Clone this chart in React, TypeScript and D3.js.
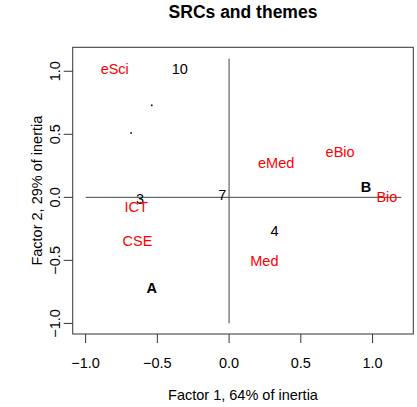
import React from "react";
import * as d3 from "d3";

const W = 417;
const H = 407;

// SRC labels (black)
const srcNames = ["10", "3", "7", "4", "A", "B"];
const srcX = [-0.344, -0.62, -0.047, 0.316, -0.539, 0.955];
const srcY = [1.015, -0.01, 0.02, -0.265, -0.717, 0.084];
const srcBold = [false, false, false, false, true, true];

// theme labels (red)
const themeNames = ["eSci", "eMed", "eBio", "Bio", "ICT", "CSE", "Med"];
const themeX = [-0.797, 0.328, 0.774, 1.1, -0.648, -0.639, 0.246];
const themeY = [1.015, 0.27, 0.362, 0.0, -0.08, -0.344, -0.505];

// unlabeled points
const dotX = [-0.539, -0.683];
const dotY = [0.73, 0.51];

const xTicks = [-1.0, -0.5, 0.0, 0.5, 1.0];
const yTicks = [-1.0, -0.5, 0.0, 0.5, 1.0];

const xDomain = [-1.09, 1.284];
const yDomain = [-1.084, 1.19];

const FONT = "'Liberation Sans', Arial, Helvetica, sans-serif";
const FS = 14.5;

const fmt = (v: number) => d3.format(".1f")(v).replace("-", "\u2212");

export default function App() {
  const left = 72.7, right = 413.3, top = 47.3, bottom = 334;
  const x = d3.scaleLinear().domain(xDomain).range([left, right]);
  const y = d3.scaleLinear().domain(yDomain).range([bottom, top]);

  return (
    <svg width={W} height={H} style={{ position: "absolute", left: 0, top: 0 }} fontFamily={FONT}>
      <rect width={W} height={H} fill="white" />
      <text x={(left + right) / 2} y={18} textAnchor="middle" fontSize={17.5} fontWeight="bold">
        SRCs and themes
      </text>
      {/* cross lines */}
      <line x1={x(-1)} x2={x(1.2)} y1={y(0)} y2={y(0)} stroke="#444" strokeWidth={1} />
      <line x1={x(0)} x2={x(0)} y1={y(1.1)} y2={y(-1)} stroke="#444" strokeWidth={1} />
      {/* box */}
      <rect x={left} y={top} width={right - left} height={bottom - top} fill="none" stroke="#333" strokeWidth={1} />
      {/* x axis */}
      {xTicks.map((t) => (
        <g key={"x" + t}>
          <line x1={x(t)} x2={x(t)} y1={bottom} y2={bottom + 9} stroke="#333" />
          <text x={x(t)} y={368} textAnchor="middle" fontSize={FS}>{fmt(t)}</text>
        </g>
      ))}
      {/* y axis */}
      {yTicks.map((t) => (
        <g key={"y" + t}>
          <line x1={left - 9} x2={left} y1={y(t)} y2={y(t)} stroke="#333" />
          <text transform={`translate(60,${y(t)}) rotate(-90)`} textAnchor="middle" fontSize={FS}>{fmt(t)}</text>
        </g>
      ))}
      <text x={(left + right) / 2} y={400} textAnchor="middle" fontSize={FS}>Factor 1, 64% of inertia</text>
      <text transform={`translate(42,${(top + bottom) / 2}) rotate(-90)`} textAnchor="middle" fontSize={FS}>
        Factor 2, 29% of inertia
      </text>
      {/* dots */}
      {dotX.map((d, i) => (
        <rect key={"d" + i} x={x(d) - 0.8} y={y(dotY[i]) - 0.8} width={1.6} height={1.6} fill="black" />
      ))}
      {/* SRC labels */}
      {srcNames.map((n, i) => (
        <text key={"s" + n} x={x(srcX[i])} y={y(srcY[i])} dy="0.35em" textAnchor="middle" fontSize={FS}
          fontWeight={srcBold[i] ? "bold" : "normal"} fill="black">{n}</text>
      ))}
      {/* theme labels */}
      {themeNames.map((n, i) => (
        <text key={"t" + n} x={x(themeX[i])} y={y(themeY[i])} dy="0.35em" textAnchor="middle" fontSize={FS}
          fill="#FF0000">{n}</text>
      ))}
    </svg>
  );
}
